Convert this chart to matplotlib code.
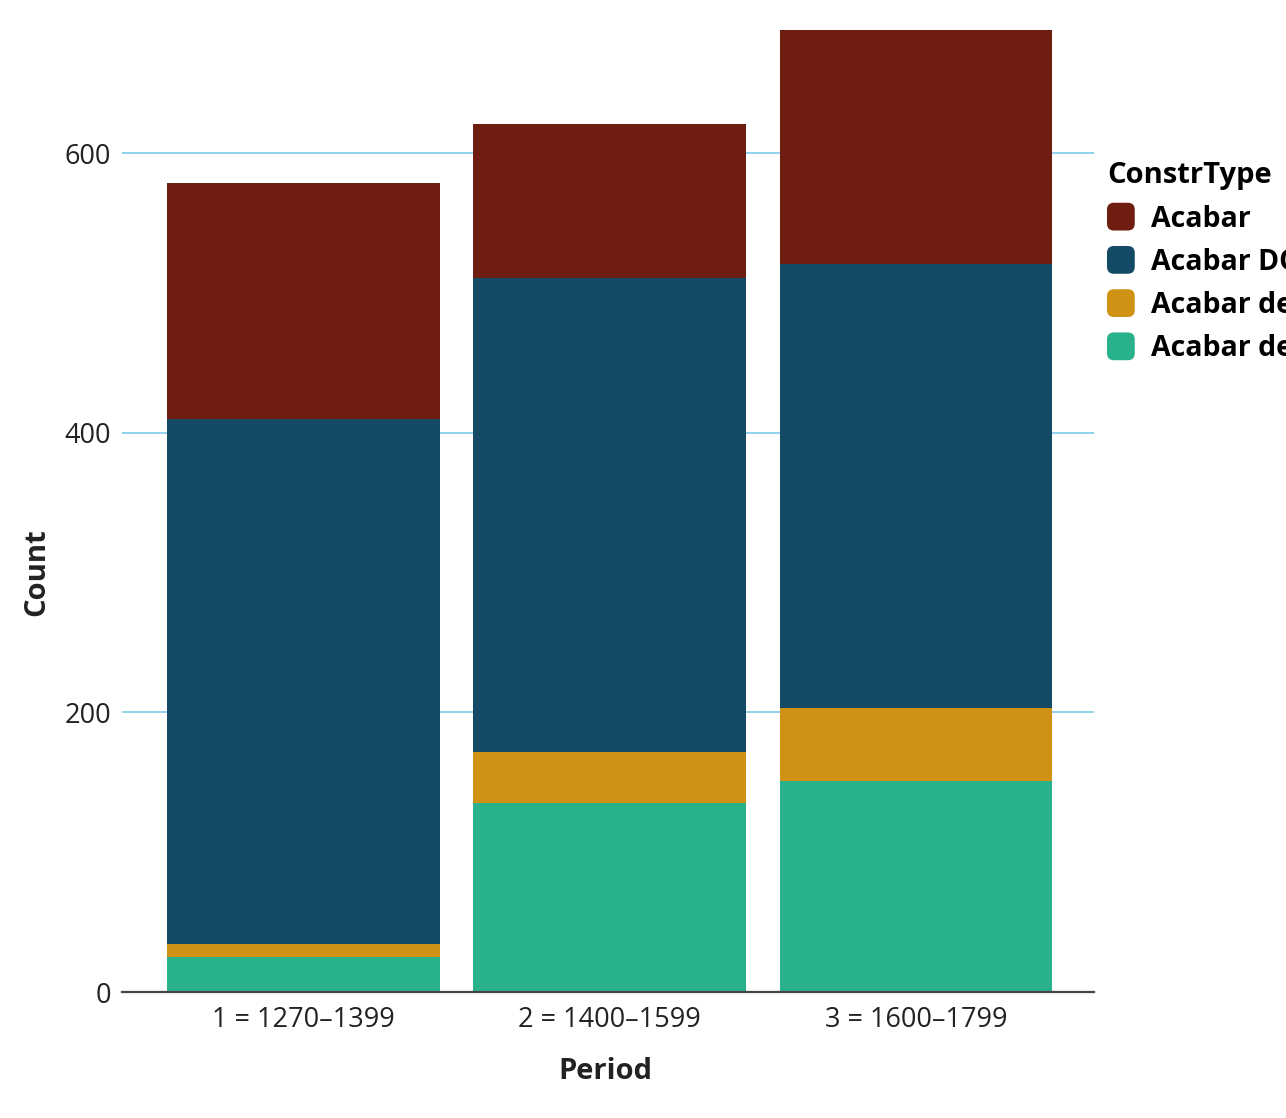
import matplotlib.pyplot as plt
from matplotlib.patches import Patch, FancyBboxPatch
from matplotlib.legend_handler import HandlerPatch
import numpy as np

PERIODS = ['1 = 1270\u20131399', '2 = 1400\u20131599', '3 = 1600\u20131799']
TYPES = ['Acabar', 'Acabar DO', 'Acabar de INF', 'Acabar de NP']
COLORS = ['#6E1D10', '#154A66', '#D09215', '#29B18B']

# counts per period, one list per construction type
acabar = [169, 110, 167]
acabar_do = [376, 339, 318]
acabar_de_inf = [9, 37, 52]
acabar_de_np = [25, 135, 151]

plt.rcParams['font.family'] = ['Open Sans', 'DejaVu Sans']


def rounded_box(legend, orig_handle, xdescent, ydescent, width, height, fontsize):
    side = 20
    return FancyBboxPatch((-xdescent, -ydescent + height / 2 - side / 2), side, side,
                          boxstyle='round,pad=0,rounding_size=5')


fig = plt.figure(figsize=(12.86, 11.18), dpi=100)
ax = fig.add_axes([0.0949, 0.1127, 0.7558, 0.8753])

x = np.arange(len(PERIODS))
stack = [acabar_de_np, acabar_de_inf, acabar_do, acabar]
stack_colors = COLORS[::-1]
bottom = np.zeros(len(PERIODS))
for vals, col in zip(stack, stack_colors):
    ax.bar(x, vals, 0.89, bottom=bottom, color=col, zorder=2)
    bottom += np.array(vals)

ax.set_xlim(-0.593, 2.582)
ax.set_ylim(0, 700)
ax.set_yticks([0, 200, 400, 600])
ax.set_xticks(x, PERIODS)
ax.tick_params(axis='both', length=0, labelsize=19.5, colors='#222222')
ax.tick_params(axis='y', pad=8)
ax.tick_params(axis='x', pad=10)
ax.grid(axis='y', color='#7FCBEA', linewidth=1.2, zorder=0)

for s in ['top', 'right', 'left']:
    ax.spines[s].set_visible(False)
ax.spines['bottom'].set_color('#444444')
ax.spines['bottom'].set_linewidth(1.6)
ax.spines['bottom'].set_zorder(3)

ax.set_xlabel('Period', fontsize=21, fontweight='bold', color='#222222')
ax.set_ylabel('Count', fontsize=21, fontweight='bold', color='#222222')
ax.xaxis.set_label_coords(0.497, -0.066)
ax.yaxis.set_label_coords(-0.073, 0.429)

handles = [Patch(facecolor=c, edgecolor='none') for c in COLORS]
leg = ax.legend(handles, TYPES, title='ConstrType', loc='upper left',
                bbox_to_anchor=(0.987, 0.875), frameon=False, fontsize=20.5,
                title_fontsize=21, handlelength=1.0, handletextpad=0.55,
                labelspacing=0.5, borderaxespad=0.5, alignment='left',
                handler_map={Patch: HandlerPatch(patch_func=rounded_box)})
for t in leg.get_texts():
    t.set_fontweight('bold')
leg.get_title().set_fontweight('bold')

plt.savefig('out.png', dpi=100)
